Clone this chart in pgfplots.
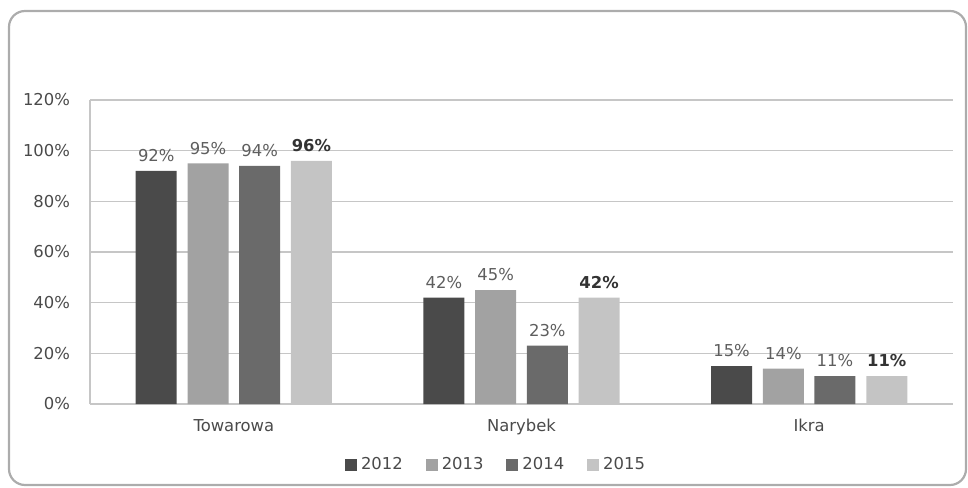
\documentclass[border=0pt]{standalone}
\usepackage{pgfplots}
\pgfplotsset{compat=1.18}
\usepackage{fontspec}
\setmainfont{DejaVu Sans}
\definecolor{c12}{HTML}{4A4A4A}
\definecolor{c13}{HTML}{A2A2A2}
\definecolor{c14}{HTML}{6A6A6A}
\definecolor{c15}{HTML}{C4C4C4}
\definecolor{txt}{HTML}{4A4A4A}
\definecolor{lbl}{HTML}{5E5E5E}
\definecolor{gridc}{HTML}{C6C6C6}
\begin{document}
\begin{tikzpicture}
\path[use as bounding box] (-45pt,-41.5pt) rectangle (439pt,202pt);
\draw[gray!65, line width=1.1pt, rounded corners=8pt] (-40.5pt,-40.5pt) rectangle (438pt,196.5pt);
\begin{axis}[
  at={(0pt,0pt)}, anchor=south west,
  width=431.5pt, height=152pt, scale only axis,
  xmin=-0.5, xmax=2.5, ymin=0, ymax=120,
  ytick={0,20,...,120},
  xtick={0,1,2}, xticklabels={Towarowa,Narybek,Ikra},
  axis x line=bottom, axis y line=left,
  axis line style={draw=gridc, line width=0.8pt, -},
  ymajorgrids, grid style={gridc, line width=0.8pt},
  major tick length=0pt,
  /pgf/number format/assume math mode=true,
  yticklabel={\pgfmathprintnumber{\tick}\%},
  ticklabel style={font=\fontsize{8.2}{10}\selectfont, text=txt},
  yticklabel style={xshift=-6.5pt},
  xticklabel style={yshift=-4pt},
  ybar, bar width=20.5pt,
  nodes near coords={\pgfmathprintnumber{\pgfplotspointmeta}\%},
  every node near coord/.append style={font=\fontsize{8.2}{10}\selectfont, text=lbl, yshift=1pt},
  legend style={at={(0.4716,-0.2007)}, anchor=center, draw=none, fill=none,
    legend columns=4, font=\fontsize{8.2}{10}\selectfont, text=txt,
    /tikz/every even column/.append style={column sep=9.5pt},
    inner sep=0pt},
  legend image code/.code={\fill[#1, draw=none] (0pt,-3pt) rectangle (6pt,3pt);},
]
\addplot[fill=c12, draw=none, bar shift=-38.8pt] coordinates {(0,92) (1,42) (2,15)};
\addlegendentry{2012}
\addplot[fill=c13, draw=none, bar shift=-12.9pt] coordinates {(0,95) (1,45) (2,14)};
\addlegendentry{2013}
\addplot[fill=c14, draw=none, bar shift=12.9pt] coordinates {(0,94) (1,23) (2,11)};
\addlegendentry{2014}
\addplot[fill=c15, draw=none, bar shift=38.8pt,
  every node near coord/.append style={font=\fontsize{8.2}{10}\selectfont\bfseries, text=black!80}] coordinates {(0,96) (1,42) (2,11)};
\addlegendentry{2015}
\end{axis}
\end{tikzpicture}
\end{document}
